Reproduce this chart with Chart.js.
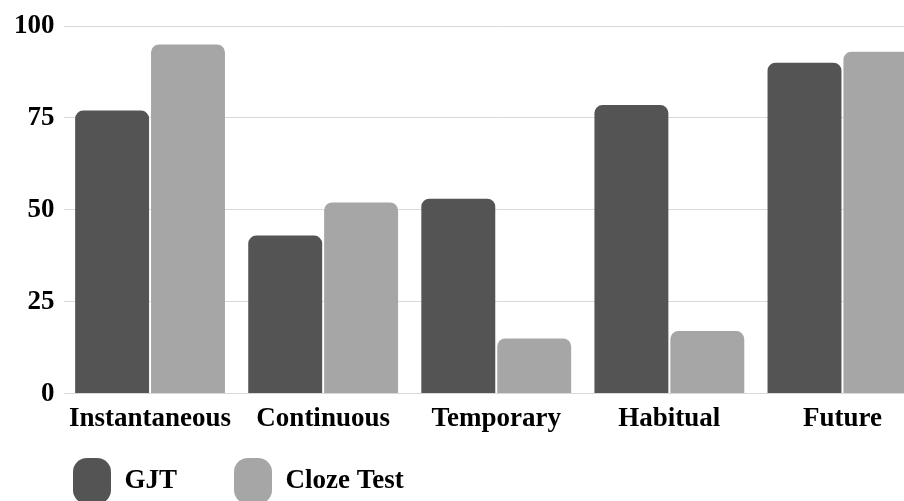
<!DOCTYPE html>
<html>
<head>
<meta charset="utf-8">
<script src="https://cdn.jsdelivr.net/npm/chart.js@4/dist/chart.umd.min.js"></script>
<style>
  html, body { margin: 0; padding: 0; background: #fff; }
  #wrap { width: 904px; height: 501px; overflow: hidden; position: relative; }
  #chart { position: absolute; left: 0; top: 0; }
</style>
</head>
<body>
<div id="wrap"><canvas id="chart" width="930" height="549"></canvas></div>
<script>
// categories and series
const categories = ["Instantaneous", "Continuous", "Temporary", "Habitual", "Future"];
const gjtValues = [77, 43, 53, 78.5, 90];
const clozeValues = [95, 52, 15, 17, 93];
const yTicks = [0, 25, 50, 75, 100];

const font = { family: "'Liberation Serif', 'Times New Roman', serif", size: 27, weight: "bold" };

// the legend's label padding is wide (item spacing), which also pushes it down;
// pull it back up under the category labels and in line with the first bar
const legendShift = {
  id: "legendShift",
  afterLayout(chart) {
    const lg = chart.legend;
    lg.top -= 35;
    lg.bottom -= 35;
    lg.left += 11;
    lg.right += 11;
  },
};

const ctx = document.getElementById("chart");
const chart = new Chart(ctx, {
  type: "bar",
  data: {
    labels: categories,
    datasets: [
      {
        label: "GJT",
        data: gjtValues,
        backgroundColor: "#545454", // dark grey
        borderRadius: { topLeft: 8, topRight: 8 },
        borderSkipped: "bottom",
      },
      {
        label: "Cloze Test",
        data: clozeValues,
        backgroundColor: "#a6a6a6", // light grey
        borderRadius: { topLeft: 8, topRight: 8 },
        borderSkipped: "bottom",
      },
    ],
  },
  options: {
    responsive: false,
    animation: false,
    devicePixelRatio: 1,
    layout: { padding: { left: 5, right: 1, top: 26, bottom: 0 } },
    datasets: {
      bar: { categoryPercentage: 0.877, barPercentage: 0.974 },
    },
    scales: {
      x: {
        grid: { display: false },
        border: { display: false },
        ticks: { color: "#000", font: font, padding: 1, maxRotation: 0, autoSkip: false },
      },
      y: {
        min: 0,
        max: 100,
        afterBuildTicks: (scale) => { scale.ticks = yTicks.map((v) => ({ value: v })); },
        grid: { color: "#d9d9d9", drawTicks: false },
        border: { display: false },
        ticks: { color: "#000", font: font, padding: 9 },
      },
    },
    plugins: {
      tooltip: { enabled: false },
      legend: {
        position: "bottom",
        align: "start",
        labels: {
          color: "#000",
          font: font,
          boxWidth: 38,
          boxHeight: 46,
          padding: 57,
          useBorderRadius: true,
          borderRadius: 14,
        },
      },
    },
  },
  plugins: [legendShift],
});
</script>
</body>
</html>
